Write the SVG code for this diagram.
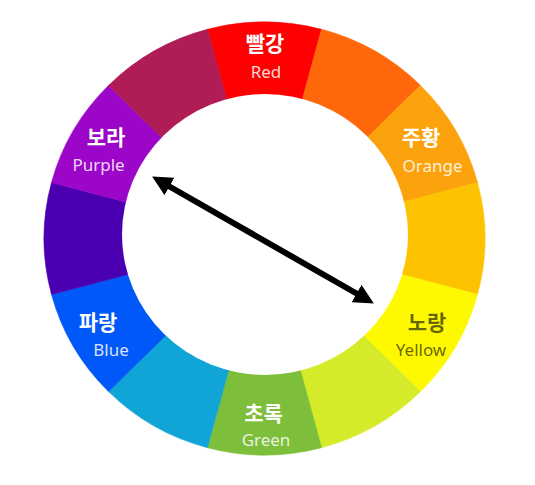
<svg xmlns="http://www.w3.org/2000/svg" xmlns:xlink="http://www.w3.org/1999/xlink" width="535" height="485" viewBox="0 0 535 485">
<style>
.ko{font-family:"Noto Sans CJK KR","Noto Sans",sans-serif;font-weight:700;font-size:21px;text-anchor:middle;fill:#fff}
.en{font-family:"Noto Sans","Noto Sans CJK KR",sans-serif;font-weight:400;font-size:17px;text-anchor:middle;fill:#fff;fill-opacity:0.85}
.dark{fill:#000;fill-opacity:0.6}
.seg{stroke-width:0.6}
</style>
<defs>
<path id="seg" d="M 0 0 L -57.07 -212.98 A 220.5 220.5 0 0 1 57.07 -212.98 Z"/>
<marker id="ah" markerUnits="userSpaceOnUse" markerWidth="20" markerHeight="20" viewBox="0 0 20 20" refX="4" refY="10" orient="auto-start-reverse">
<path d="M0,0 L20,10 L0,20 Z" fill="#000"/>
</marker>
</defs>
<rect width="535" height="485" fill="#fff"/>
<g id="wheel" transform="translate(264.5,238.5) scale(1,0.982)">
<g id="red"><use xlink:href="#seg" class="seg" fill="#FE0000" stroke="#FE0000" transform="rotate(0)"/></g>
<g id="red-orange"><use xlink:href="#seg" class="seg" fill="#FE680A" stroke="#FE680A" transform="rotate(30)"/></g>
<g id="orange"><use xlink:href="#seg" class="seg" fill="#FBA20D" stroke="#FBA20D" transform="rotate(60)"/></g>
<g id="yellow-orange"><use xlink:href="#seg" class="seg" fill="#FDC300" stroke="#FDC300" transform="rotate(90)"/></g>
<g id="yellow"><use xlink:href="#seg" class="seg" fill="#FEF900" stroke="#FEF900" transform="rotate(120)"/></g>
<g id="yellow-green"><use xlink:href="#seg" class="seg" fill="#D5EB2A" stroke="#D5EB2A" transform="rotate(150)"/></g>
<g id="green"><use xlink:href="#seg" class="seg" fill="#7DBE3A" stroke="#7DBE3A" transform="rotate(180)"/></g>
<g id="blue-green"><use xlink:href="#seg" class="seg" fill="#10A5D6" stroke="#10A5D6" transform="rotate(210)"/></g>
<g id="blue"><use xlink:href="#seg" class="seg" fill="#0058F8" stroke="#0058F8" transform="rotate(240)"/></g>
<g id="blue-violet"><use xlink:href="#seg" class="seg" fill="#4A00B0" stroke="#4A00B0" transform="rotate(270)"/></g>
<g id="purple"><use xlink:href="#seg" class="seg" fill="#9C06C8" stroke="#9C06C8" transform="rotate(300)"/></g>
<g id="red-violet"><use xlink:href="#seg" class="seg" fill="#B01C56" stroke="#B01C56" transform="rotate(330)"/></g>
</g>
<ellipse id="center" cx="265" cy="234.5" rx="143" ry="140.5" fill="#fff"/>
<g id="label-red"><text class="ko" x="265" y="51">빨강</text><text class="en" x="266" y="78">Red</text></g>
<g id="label-orange"><text class="ko" x="421" y="145">주황</text><text class="en" x="432.5" y="172">Orange</text></g>
<g id="label-yellow"><text class="ko dark" x="427" y="330">노랑</text><text class="en dark" x="421" y="356">Yellow</text></g>
<g id="label-green"><text class="ko" x="263.5" y="421">초록</text><text class="en" x="266" y="446">Green</text></g>
<g id="label-blue"><text class="ko" x="98" y="330">파랑</text><text class="en" x="111" y="356">Blue</text></g>
<g id="label-purple"><text class="ko" x="106" y="145">보라</text><text class="en" x="98.5" y="171">Purple</text></g>
<g id="connectors">
<line x1="166" y1="184.5" x2="360" y2="295.5" stroke="#000" stroke-width="6" marker-start="url(#ah)" marker-end="url(#ah)"/>
</g>
</svg>
